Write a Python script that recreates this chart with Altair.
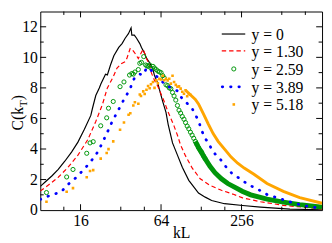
import altair as alt
import pandas as pd

# ---------------- data ----------------
BLACK_K = [8.0, 8.7, 9.8, 10.9, 12.2, 13.7, 15.3, 17.1, 19.1, 19.7, 20.8, 22.1, 22.7, 24.6, 25.4, 26.8,
           28.4, 30.9, 32.7, 34.5, 36.5, 38.2, 38.7, 40.4, 42.0, 44.4, 45.7, 48.3, 49.8, 52.6, 55.7,
           57.2, 60.6, 62.2, 65.9, 69.7, 72.4, 78.0, 84.9, 92.3, 103.2, 122, 137, 153, 191, 261,
           355, 589, 1024]
BLACK_C = [1.55, 1.84, 2.25, 2.66, 3.2, 3.8, 4.45, 5.3, 6.2, 6.7, 7.5, 8.0, 8.25, 8.9, 8.85, 9.5,
           10.1, 10.65, 10.9, 11.25, 11.55, 11.93, 11.45, 11.45, 11.25, 10.9, 10.65, 10.25, 9.95, 9.65,
           9.2, 8.8, 8.3, 7.9, 7.1, 6.4, 5.6, 4.4, 3.6, 2.8, 1.95, 1.12, 0.85, 0.63, 0.42, 0.3,
           0.2, 0.07, 0.02]

RED_K = [8.0, 9.2, 10.9, 12.9, 15.3, 18.1, 20.8, 23.3, 25.4, 28.0, 30.0, 32.5, 34.5, 35.5, 37.6,
         38.7, 40.4, 43.3, 45.7, 47.1, 49.8, 52.6, 54.1, 57.2, 60.6, 64.0, 67.7, 71.7, 75.8, 80.1,
         84.9, 89.7, 97.6, 109.3, 125.6, 148.7, 181, 220, 261, 355, 526, 779, 1024]
RED_C = [1.25, 1.64, 2.15, 2.8, 3.6, 4.6, 5.8, 6.9, 8.0, 8.7, 9.3, 9.6, 9.72, 9.92, 10.58,
         10.53, 10.33, 9.92, 10.33, 10.53, 9.92, 9.51, 9.0, 8.49, 8.1, 7.6, 7.1, 6.5, 6.0, 5.5,
         4.9, 4.25, 3.55, 2.76, 2.05, 1.62, 1.3, 1.05, 0.8, 0.55, 0.31, 0.17, 0.07]

GREEN_K = [8.9, 12.6, 14.05, 17.8, 18.85, 19.9, 22.65, 25.1, 25.9, 28.1, 31.6, 33.8, 37.2, 38.7,
           39.7, 40.8, 43.3, 44.4, 45.7, 47.5, 49.1, 50.2, 51.2, 52.6, 53.8, 55.7, 57.2, 58.9,
           60.6, 62.2, 64.0, 65.9, 67.7, 69.7, 71.7, 73.7, 75.8, 78.0, 80.1, 82.5, 84.9, 87.2,
           89.7, 92.3, 95.0, 97.6, 100.4, 103.2, 106.2, 109.3, 112.4, 115.5, 118.7, 122, 125.5,
           129, 132.8, 136.7]
GREEN_C = [1.15, 2.17, 2.66, 3.72, 4.4, 4.48, 5.52, 6.04, 6.67, 7.11, 8.08, 8.39, 8.84, 8.94,
           8.9, 9.04, 9.2, 9.61, 9.67, 10.05, 9.5, 9.45, 9.41, 9.5, 9.3, 9.41, 9.3, 9.2,
           9.1, 9.05, 9.0, 8.8, 8.65, 8.2, 8.15, 8.0, 7.95, 7.7, 7.47, 7.2, 6.85, 6.54,
           6.35, 6.13, 5.95, 5.73, 5.5, 5.32, 5.1, 4.91, 4.7, 4.5, 4.3, 4.09, 3.92,
           3.79, 3.55, 3.37]
GREEN_TAIL_K = [115.5, 122, 136.7, 148.7, 162, 181, 202, 227, 261, 300, 397, 526, 697, 1024]
GREEN_TAIL_C = [4.5, 4.09, 3.37, 2.87, 2.45, 2.05, 1.74, 1.5, 1.22, 1.0, 0.72, 0.52, 0.36, 0.2]

BLUE_K = [8.0, 9.2, 11.5, 12.6, 14.9, 17.6, 19.1, 20.6, 22.1, 23.7, 25.4, 27.6, 29.2, 30.9, 32.7,
          34.5, 37.6, 38.7, 40.8, 44.4, 47.1, 49.8, 52.6, 57.2, 60.6, 64.0, 69.0, 76.0, 85.0, 92.0,
          100.0, 109.3, 115.5, 122, 129, 136.7, 144.5, 153, 162, 176, 191, 202, 220, 240, 261,
          292, 345, 397, 470, 556, 658, 779, 922, 1024]
BLUE_C = [0.7, 0.92, 1.2, 1.6, 2.15, 2.82, 3.2, 3.54, 4.0, 4.55, 5.1, 5.8, 6.2, 6.6, 7.0,
          7.4, 7.9, 8.3, 8.7, 8.9, 8.85, 9.3, 9.3, 8.85, 8.7, 8.5, 8.2, 8.0, 7.8, 7.3,
          7.0, 6.65, 6.25, 5.85, 5.2, 4.7, 4.4, 4.0, 3.68, 3.37, 2.97, 2.66, 2.36, 2.15, 1.92,
          1.64, 1.33, 1.02, 0.82, 0.61, 0.41, 0.27, 0.17, 0.14]

ORANGE_K = [8.9, 12.6, 14.05, 17.8, 18.85, 19.9, 22.65, 25.1, 25.9, 28.1, 31.6, 33.8, 36.6, 37.7,
            39.7, 40.8, 43.3, 44.4, 45.3, 47.1, 48.3, 49.8, 51.2, 52.6, 53.8, 55.7, 57.2, 58.9,
            60.6, 62.2, 64.0, 65.9, 67.7, 69.7, 71.7, 73.7, 75.8, 78.0, 80.1, 82.5, 84.9, 87.2,
            89.7, 92.3, 95.0, 97.6, 100.4, 103.2, 106.0]
ORANGE_C = [0.55, 1.2, 1.44, 2.15, 2.56, 2.62, 3.37, 3.74, 3.99, 4.5, 5.26, 5.73, 6.24, 6.34,
            6.85, 7.06, 6.96, 7.57, 7.47, 7.77, 7.6, 7.88, 8.12, 7.98, 8.24, 8.39, 8.0, 8.49,
            8.3, 8.59, 8.55, 8.8, 8.5, 8.6, 8.49, 8.6, 8.28, 8.8, 8.39, 8.2, 8.08, 8.1,
            7.95, 7.75, 7.62, 7.85, 7.45, 7.6, 7.55]
ORANGE_TAIL_K = [97.6, 106, 115.5, 122, 132.8, 144.5, 157, 171, 191, 214, 239.5, 268, 317, 397,
                 526, 697, 1024]
ORANGE_TAIL_C = [7.85, 7.55, 7.25, 6.95, 6.3, 5.63, 5.01, 4.5, 3.99, 3.47, 3.07, 2.75, 2.35, 1.74,
                 1.23, 0.82, 0.45]

LEGEND_LABELS = ["y = 0", "y = 1.30", "y = 2.59", "y = 3.89", "y = 5.18"]

X_MAJOR = [16, 64, 256]
X_MINOR = [12, 32, 48, 128, 192, 512, 768]
Y_MAJOR = [2, 4, 6, 8, 10, 12]
Y_MINOR = [1, 3, 5, 7, 9, 11]

# ---------------- chart ----------------
W, H = 288, 203
FONT = "Liberation Serif"
RED, GREEN, BLUE, ORANGE = "#ff0000", "#00960a", "#0000ff", "#ffa500"

xs = alt.Scale(type="log", base=2, domain=[8, 1024], nice=False)
ys = alt.Scale(domain=[0, 13], nice=False, zero=False)
xaxis = alt.Axis(values=X_MAJOR, title="kL", grid=False, ticks=False, tickSize=0, domain=False,
                 labelPadding=3, labelFlush=False, labelFont=FONT, labelFontSize=16,
                 labelColor="black", titleFont=FONT, titleFontSize=16, titleFontWeight="normal",
                 titleColor="black", titleBaseline="alphabetic", titleY=28.5)
yaxis = alt.Axis(values=[0] + Y_MAJOR, title=None, grid=False, ticks=False, tickSize=0, domain=False,
                 labelPadding=3, labelFlush=False, labelFont=FONT, labelFontSize=16,
                 labelColor="black")

X = alt.X("k:Q", scale=xs, axis=xaxis)
Y = alt.Y("c:Q", scale=ys, axis=yaxis)


def df(k, c):
    return pd.DataFrame({"k": k, "c": c})


one = pd.DataFrame({"a": [0]})

layers = []
layers.append(alt.Chart(df(BLACK_K, BLACK_C)).mark_line(color="black", strokeWidth=1.2, clip=True)
              .encode(x=X, y=Y))
layers.append(alt.Chart(df(RED_K, RED_C)).mark_line(color=RED, strokeWidth=1.2, strokeDash=[4.5, 3],
                                                    clip=True).encode(x=X, y=Y))
layers.append(alt.Chart(df(GREEN_TAIL_K, GREEN_TAIL_C)).mark_line(color=GREEN, strokeWidth=5,
                                                                  clip=True).encode(x=X, y=Y))
layers.append(alt.Chart(df(GREEN_K, GREEN_C)).mark_point(shape="circle", filled=False, color=GREEN,
                                                         size=18, strokeWidth=1, opacity=1,
                                                         clip=True).encode(x=X, y=Y))
layers.append(alt.Chart(df(BLUE_K, BLUE_C)).mark_line(color=BLUE, strokeWidth=2.8, strokeDash=[0.5, 8],
                                                      strokeCap="round", clip=True).encode(x=X, y=Y))
layers.append(alt.Chart(df(ORANGE_TAIL_K, ORANGE_TAIL_C)).mark_line(color=ORANGE, strokeWidth=3,
                                                                    clip=True).encode(x=X, y=Y))
layers.append(alt.Chart(df(ORANGE_K, ORANGE_C)).mark_square(color=ORANGE, size=7, opacity=1,
                                                            clip=True).encode(x=X, y=Y))

# inward ticks on all four sides
for vals, ln in ((X_MAJOR, 6), (X_MINOR, 3.5)):
    d = pd.DataFrame({"k": vals})
    layers.append(alt.Chart(d).mark_rule(color="black", strokeWidth=1)
                  .encode(x=X, y=alt.value(H), y2=alt.value(H - ln)))
    layers.append(alt.Chart(d).mark_rule(color="black", strokeWidth=1)
                  .encode(x=X, y=alt.value(0), y2=alt.value(ln)))
for vals, ln in ((Y_MAJOR, 6), (Y_MINOR, 3.5)):
    d = pd.DataFrame({"c": vals})
    layers.append(alt.Chart(d).mark_rule(color="black", strokeWidth=1)
                  .encode(y=Y, x=alt.value(0), x2=alt.value(ln)))
    layers.append(alt.Chart(d).mark_rule(color="black", strokeWidth=1)
                  .encode(y=Y, x=alt.value(W - ln), x2=alt.value(W)))

# y-axis title C(k_T)
cy = H / 2 + 1
tx0 = -17.5
layers.append(alt.Chart(one).mark_text(text="C(k", font=FONT, fontSize=16, angle=270, align="left",
                                       baseline="alphabetic", color="black")
              .encode(x=alt.value(tx0), y=alt.value(cy + 19)))
layers.append(alt.Chart(one).mark_text(text="T", font=FONT, fontSize=11, angle=270, align="left",
                                       baseline="alphabetic", color="black")
              .encode(x=alt.value(tx0 + 3.5), y=alt.value(cy - 5)))
layers.append(alt.Chart(one).mark_text(text=")", font=FONT, fontSize=16, angle=270, align="left",
                                       baseline="alphabetic", color="black")
              .encode(x=alt.value(tx0), y=alt.value(cy - 11.8)))

# legend
rows = [23.0, 40.2, 58.7, 77.0, 95.0]
lx0, lx1, tx = 185.5, 209.5, 216
layers.append(alt.Chart(one).mark_rule(color="black", strokeWidth=1.2)
              .encode(x=alt.value(lx0), x2=alt.value(lx1), y=alt.value(rows[0])))
layers.append(alt.Chart(one).mark_rule(color=RED, strokeWidth=1.2, strokeDash=[4.5, 3])
              .encode(x=alt.value(lx0), x2=alt.value(lx1), y=alt.value(rows[1])))
layers.append(alt.Chart(one).mark_point(shape="circle", filled=False, color=GREEN, size=18,
                                        strokeWidth=1, opacity=1)
              .encode(x=alt.value(197.8), y=alt.value(rows[2])))
layers.append(alt.Chart(one).mark_rule(color=BLUE, strokeWidth=2.8, strokeDash=[0.5, 8],
                                       strokeCap="round")
              .encode(x=alt.value(lx0 + 0.5), x2=alt.value(lx1 + 1), y=alt.value(rows[3])))
layers.append(alt.Chart(one).mark_square(color=ORANGE, size=7, opacity=1)
              .encode(x=alt.value(197.8), y=alt.value(rows[4])))
for lab, ry in zip(LEGEND_LABELS, rows):
    layers.append(alt.Chart(one).mark_text(text=lab, font=FONT, fontSize=16, align="left",
                                           baseline="middle", color="black")
                  .encode(x=alt.value(tx), y=alt.value(ry + 1)))

chart = alt.layer(*layers).properties(
    width=W, height=H,
    autosize=alt.AutoSizeParams(type="none"),
    padding={"left": 33, "top": 1, "right": 2, "bottom": 30},
).configure_view(stroke="black", strokeWidth=1)

chart.save("out.html", embed_options={"renderer": "svg", "actions": False})
